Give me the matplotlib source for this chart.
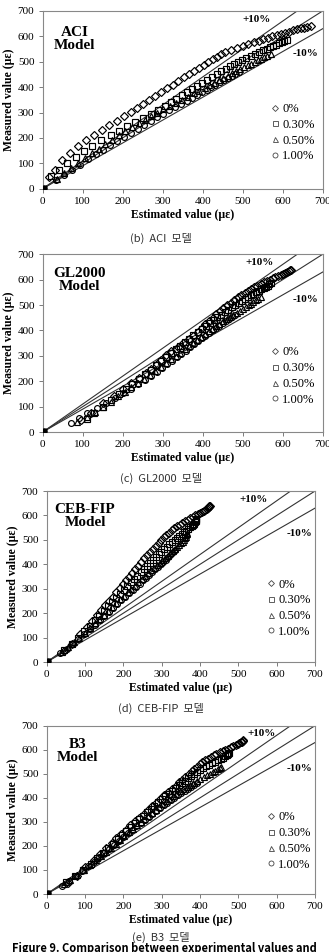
import matplotlib.pyplot as plt
from matplotlib.lines import Line2D

plt.rcParams['font.family'] = ['Liberation Serif', 'DejaVu Serif']

labels = ['0%', '0.30%', '0.50%', '1.00%']
markers = ['D', 's', '^', 'o']
bands = [1.1, 1.0, 0.9]
ticks = [0, 100, 200, 300, 400, 500, 600, 700]

# measured strain (same test data in every panel)
meas_0 = [0, 47, 74, 113, 142, 168, 192, 212, 232, 250, 268, 285, 302, 318, 334, 350, 365, 380, 395, 410,
          424, 438, 451, 464, 476, 488, 499, 510, 520, 530, 540, 548, 556, 563, 570, 577, 583, 589, 595, 600,
          605, 610, 615, 619, 623, 627, 631, 634, 637, 640]
meas_030 = [0, 50, 75, 100, 125, 148, 170, 190, 210, 228, 246, 263, 280, 296, 311, 326, 340, 354, 368, 381,
            394, 406, 418, 430, 441, 452, 462, 472, 482, 491, 500, 508, 516, 524, 531, 538, 545, 551, 557, 562,
            567, 572, 577, 581, 585]
meas_050 = [0, 40, 60, 80, 100, 120, 140, 158, 176, 193, 210, 226, 242, 257, 272, 286, 300, 313, 326, 339,
            351, 363, 375, 386, 397, 407, 417, 427, 436, 445, 454, 462, 470, 478, 486, 493, 500, 506, 512, 518,
            524, 530]
meas_100 = [0, 35, 55, 75, 95, 115, 135, 153, 171, 188, 205, 221, 237, 252, 267, 281, 295, 308, 321, 334,
            346, 358, 369, 380, 390, 400, 410, 419, 428, 437, 445, 453, 460]

# estimated strain, ACI
aci_0 = [0, 16, 31, 49, 68, 87, 107, 127, 148, 167, 186, 203, 220, 236, 251, 266, 281, 295, 310, 325,
         339, 353, 366, 379, 391, 403, 414, 425, 435, 445, 455, 470, 486, 500, 514, 528, 540, 552, 563, 574,
         585, 595, 605, 615, 625, 635, 645, 653, 661, 670]
aci_030 = [0, 20, 40, 60, 82, 103, 123, 145, 171, 191, 211, 231, 250, 270, 289, 306, 320, 334, 348, 361,
           374, 386, 398, 411, 423, 436, 447, 458, 469, 479, 489, 498, 509, 521, 531, 541, 551, 560, 569, 577,
           584, 591, 598, 604, 610]
aci_050 = [0, 35, 52, 70, 88, 106, 124, 140, 157, 173, 190, 207, 224, 240, 256, 270, 287, 302, 318, 334,
           349, 363, 378, 391, 405, 417, 429, 441, 452, 463, 474, 484, 494, 504, 514, 522, 531, 538, 546, 553,
           561, 570]
aci_100 = [0, 33, 52, 72, 92, 112, 132, 150, 168, 186, 204, 220, 238, 254, 271, 287, 302, 317, 332, 346,
           360, 373, 386, 398, 410, 421, 432, 443, 453, 464, 473, 482, 490]

# estimated strain, GL2000
gl_0 = [0, 95, 120, 150, 178, 200, 222, 240, 258, 272, 285, 295, 308, 322, 338, 352, 365, 377, 389, 398,
        407, 416, 425, 434, 443, 452, 461, 470, 479, 488, 497, 505, 513, 521, 529, 537, 545, 553, 561, 568,
        575, 582, 589, 595, 601, 607, 612, 615, 618, 620]
gl_030 = [0, 110, 128, 150, 172, 190, 208, 224, 240, 255, 270, 283, 296, 309, 321, 333, 344, 355, 366, 377,
          388, 398, 408, 418, 428, 437, 446, 455, 464, 473, 482, 490, 498, 506, 513, 520, 527, 534, 541, 547,
          553, 558, 563, 567, 570]
gl_050 = [0, 85, 110, 130, 152, 170, 188, 205, 222, 238, 254, 268, 282, 296, 309, 321, 333, 344, 355, 366,
          376, 386, 396, 406, 415, 424, 433, 442, 451, 460, 469, 477, 485, 493, 501, 508, 515, 521, 527, 533,
          539, 545]
gl_100 = [0, 70, 90, 110, 135, 158, 180, 200, 220, 238, 255, 270, 285, 299, 312, 324, 336, 347, 358, 369,
          379, 389, 398, 407, 416, 425, 434, 442, 450, 458, 466, 473, 480]

# estimated strain, CEB-FIP
cf_0 = [0, 45, 65, 87, 105, 118, 131, 141, 152, 162, 172, 182, 191, 199, 207, 215, 222, 230, 238, 246,
        255, 262, 270, 277, 285, 292, 299, 306, 312, 319, 326, 333, 340, 347, 354, 361, 368, 375, 382, 388,
        394, 400, 405, 410, 414, 418, 421, 423, 424, 425]
cf_030 = [0, 45, 65, 82, 98, 112, 125, 137, 149, 160, 171, 181, 191, 201, 210, 219, 228, 236, 245, 253,
          261, 269, 277, 285, 292, 299, 306, 313, 320, 327, 334, 340, 346, 352, 358, 364, 369, 374, 378, 382,
          385, 387, 389, 390, 390]
cf_050 = [0, 40, 55, 70, 85, 99, 113, 125, 137, 149, 160, 171, 182, 192, 202, 212, 221, 230, 239, 248,
          256, 264, 272, 280, 288, 295, 302, 309, 316, 322, 329, 335, 341, 346, 351, 355, 359, 361, 363, 364,
          365, 365]
cf_100 = [0, 35, 52, 68, 83, 98, 112, 125, 138, 150, 162, 173, 184, 195, 205, 215, 225, 234, 243, 252,
          260, 268, 276, 283, 290, 297, 304, 310, 316, 322, 327, 331, 335]

# estimated strain, B3
b3_0 = [0, 55, 80, 100, 123, 140, 155, 170, 182, 194, 206, 218, 230, 242, 253, 264, 274, 285, 296, 307,
        317, 327, 337, 346, 354, 362, 370, 378, 385, 392, 399, 406, 413, 420, 428, 436, 443, 451, 459, 466,
        473, 480, 487, 493, 498, 503, 507, 510, 512, 513]
b3_030 = [0, 50, 75, 95, 115, 132, 147, 160, 173, 185, 197, 208, 219, 230, 241, 251, 261, 271, 281, 290,
          300, 309, 318, 327, 336, 345, 353, 361, 369, 377, 385, 392, 400, 408, 416, 424, 432, 440, 448, 455,
          461, 466, 470, 473, 475]
b3_050 = [0, 45, 62, 80, 97, 113, 128, 142, 155, 168, 180, 192, 203, 214, 225, 235, 245, 255, 265, 275,
          284, 293, 302, 311, 320, 329, 338, 347, 356, 365, 374, 383, 392, 401, 410, 418, 426, 433, 440, 446,
          451, 455]
b3_100 = [0, 40, 58, 75, 92, 108, 123, 137, 150, 163, 176, 188, 200, 212, 223, 234, 245, 256, 266, 276,
          286, 296, 306, 315, 324, 333, 342, 351, 360, 369, 377, 385, 392]

measured = [meas_0, meas_030, meas_050, meas_100]
panels = [
    ('ACI\nModel', '(b)  ACI  모델', [aci_0, aci_030, aci_050, aci_100],
     [0.1298, 0.8018, 0.851, 0.1867], (0.115, 0.842), (0.764, 0.953), (0.937, 0.758), 0.815, 0.7495),
    ('GL2000\nModel', '(c)  GL2000  모델', [gl_0, gl_030, gl_050, gl_100],
     [0.1298, 0.5462, 0.851, 0.1867], (0.13, 0.858), (0.776, 0.955), (0.937, 0.743), 0.815, 0.4975),
    ('CEB-FIP\nModel', '(d)  CEB-FIP  모델', [cf_0, cf_030, cf_050, cf_100],
     [0.1419, 0.3046, 0.8155, 0.1796], (0.143, 0.855), (0.77, 0.951), (0.944, 0.753), 0.821, 0.2560),
    ('B3\nModel', '(e)  B3  모델', [b3_0, b3_030, b3_050, b3_100],
     [0.1419, 0.0609, 0.8155, 0.1768], (0.115, 0.851), (0.801, 0.951), (0.944, 0.743), 0.821, 0.0155),
]

fig = plt.figure(figsize=(3.29, 9.52), dpi=100)

for name, caption, xs, rect, npos, ppos, mpos, legx, capy in panels:
    ax = fig.add_axes(rect)
    for b in bands:
        ax.axline((0, 0), slope=b, color='#333333', lw=0.8, zorder=1)
    for x, y, m in zip(xs, measured, markers):
        ax.plot(x, y, ls='none', marker=m, ms=4.2 if m != 'D' else 3.6, mfc='none',
                mec='black', mew=0.85, zorder=2)
        # first reading (0, 0) shows as a solid block
        ax.plot(x[0], y[0], ls='none', marker='s', ms=4.5, color='black', zorder=3)
    ax.set_xlim(0, 700)
    ax.set_ylim(0, 700)
    ax.set_xticks(ticks)
    ax.set_yticks(ticks)
    ax.tick_params(labelsize=8, length=3, width=0.6, pad=3, color='#666666')
    for s in ax.spines.values():
        s.set_color('#888888')
        s.set_linewidth(0.8)
    ax.set_xlabel('Estimated value (με)', fontsize=8.5, fontweight='bold', labelpad=2)
    ax.set_ylabel('Measured value (με)', fontsize=8.5, fontweight='bold', labelpad=2)
    ax.text(npos[0], npos[1], name, transform=ax.transAxes, ha='center', va='center',
            fontsize=11, fontweight='bold', linespacing=1.0)
    ax.text(ppos[0], ppos[1], '+10%', transform=ax.transAxes, ha='center', va='center',
            fontsize=8, fontweight='bold')
    ax.text(mpos[0], mpos[1], '-10%', transform=ax.transAxes, ha='center', va='center',
            fontsize=8, fontweight='bold')
    handles = [Line2D([], [], ls='none', marker=m, ms=3.6 if m != 'D' else 3.0, mfc='none',
                      mec='#444444', mew=0.6) for m in markers]
    ax.legend(handles, labels, loc='center left', bbox_to_anchor=(legx, 0.315), frameon=False,
              fontsize=9, handlelength=0.6, handletextpad=0.3, labelspacing=0.3, borderpad=0,
              borderaxespad=0)
    fig.text(0.49, capy, caption, ha='center', va='center', fontsize=8,
             family=['Noto Sans CJK KR', 'DejaVu Sans'], color='#333333')

fig.text(0.5, 0.004, 'Figure 9. Comparison between experimental values and',
         ha='center', va='center', fontsize=8.0, fontweight='bold',
         family=['Noto Sans CJK KR', 'DejaVu Sans'])

fig.savefig('out.png', dpi=100)
